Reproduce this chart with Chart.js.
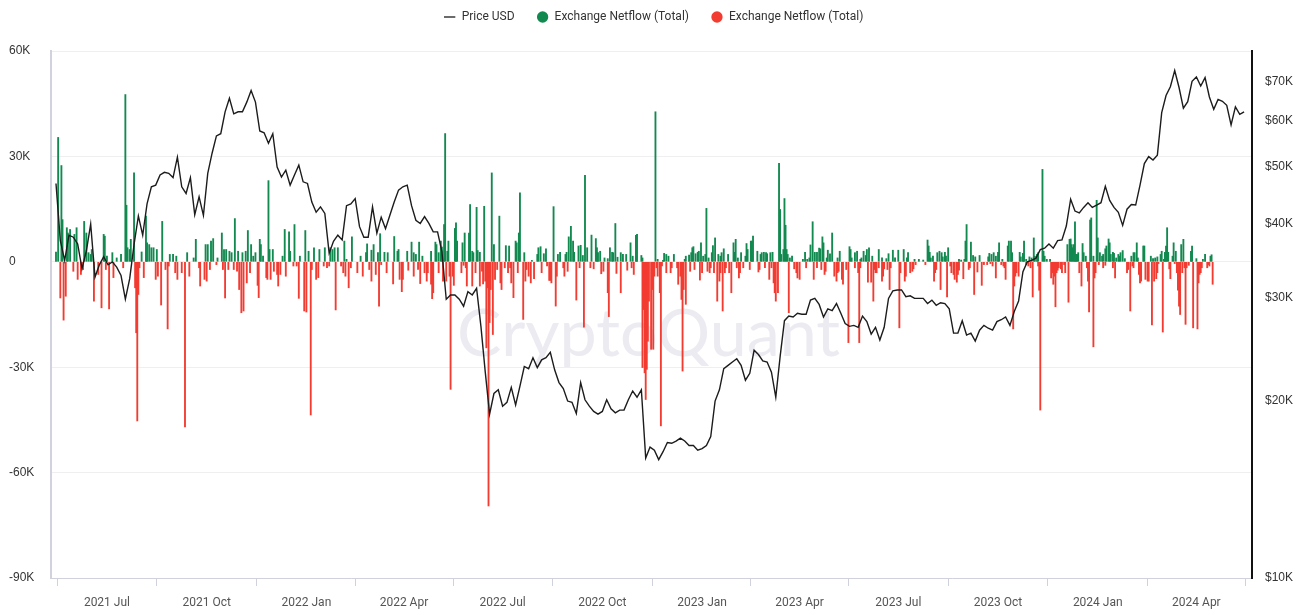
<!DOCTYPE html>
<html>
<head>
<meta charset="utf-8">
<script src="https://cdn.jsdelivr.net/npm/chart.js@4.4.1/dist/chart.umd.min.js"></script>
<style>
  html, body { margin: 0; background: #fff; }
  #wrap { width: 1304px; height: 615px; position: relative; }
</style>
</head>
<body>
<div id="wrap"><canvas id="chart"></canvas></div>
<script>
// day 0 of every series
const startDate = '2021-05-15';

// BTC price (thousand USD), one reading every 4 days from startDate
const priceStepDays = 4;
const priceUsdK = [
  46.9,37.5,34.7,38.3,38.0,37.0,33.6,36.0,40.0,32.5,
  34.1,35.2,34.1,34.5,33.8,32.7,29.8,32.3,36.9,41.3,
  38.3,43.3,46.3,46.6,48.5,49.0,48.8,48.0,52.0,46.3,
  45.1,48.0,41.5,44.5,41.4,48.8,52.8,56.5,57.0,62.1,
  65.5,61.6,62.1,62.1,64.5,67.5,64.5,57.6,57.2,54.9,
  57.0,50.0,48.1,49.4,46.6,48.5,50.4,47.2,46.9,43.6,
  41.9,42.8,41.7,35.7,37.4,38.3,37.6,43.0,43.3,44.2,
  39.6,38.0,38.0,42.8,38.6,41.1,39.3,41.4,43.6,45.7,
  46.3,46.6,43.0,40.6,40.1,41.2,40.1,38.8,38.8,35.9,
  29.8,30.3,30.3,29.8,29.0,30.7,30.3,31.1,26.8,22.4,
  19.0,20.6,20.9,19.6,19.9,21.1,19.7,21.2,22.9,22.7,
  23.7,22.8,23.5,23.7,24.2,22.6,21.5,21.0,20.0,19.9,
  19.05,21.5,20.1,19.6,19.2,19.0,19.2,20.1,19.4,19.1,
  19.3,19.3,20.1,20.8,20.3,20.9,16.0,16.7,16.5,15.9,
  16.4,17.0,16.95,17.1,17.3,17.1,16.8,16.8,16.5,16.6,
  16.8,17.4,20.0,20.9,22.7,23.0,23.3,23.6,23.0,21.7,
  22.3,24.4,24.0,23.4,23.3,22.4,20.3,23.8,27.4,27.9,
  27.8,28.2,28.1,28.1,29.7,29.9,29.2,27.8,28.7,28.5,
  29.3,28.2,27.1,26.8,26.9,26.7,27.9,27.3,26.0,26.7,
  25.4,26.7,29.9,30.8,30.9,30.9,30.1,30.2,29.9,29.9,
  29.9,29.3,29.7,29.1,29.4,29.3,28.7,26.1,26.1,27.4,
  25.9,26.1,25.3,26.4,26.9,26.6,26.4,27.3,27.5,27.8,
  26.9,28.4,29.6,33.2,34.5,34.7,35.0,36.2,36.4,37.0,
  36.4,37.5,37.6,39.7,44.1,42.1,41.8,42.7,43.5,42.7,
  43.1,43.5,46.4,43.9,42.7,41.9,39.8,42.4,43.2,43.1,
  46.6,50.7,52.1,51.4,52.4,61.9,66.2,68.5,73.0,68.3,
  63.0,64.6,70.0,71.2,68.7,71.0,65.8,62.7,65.2,64.7,
  63.7,59.0,63.3,61.5,62.1
];

// exchange netflow, [day, thousand BTC], positive days
const inflowK = [
  [0,2.8],[2,35.4],[5,27.4],[6,12.0],[10,9.7],[11,8.2],[13,9.2],[17,7.8],[19,9.7],[26,11.5],
  [28,8.2],[30,2.6],[32,2.1],[33,3.5],[44,7.8],[45,7.3],[47,1.6],[52,2.6],[56,1.1],[60,2.1],
  [64,47.6],[65,16.1],[66,4.0],[68,3.5],[69,6.4],[72,25.3],[79,2.8],[83,13.0],[84,5.4],[86,4.9],
  [88,4.0],[90,4.0],[93,3.5],[98,11.5],[105,2.1],[108,2.1],[111,1.6],[121,2.6],[127,1.1],[129,6.4],
  [138,4.9],[140,4.9],[143,5.9],[145,6.6],[149,1.1],[153,8.2],[155,3.5],[157,3.5],[160,3.0],[162,2.6],
  [165,12.3],[168,3.0],[172,2.6],[175,3.0],[177,8.9],[180,4.9],[182,1.6],[184,2.6],[188,6.4],[189,4.9],
  [191,1.6],[196,23.1],[197,3.5],[200,3.5],[209,1.6],[211,9.2],[215,8.5],[216,3.0],[220,10.6],[225,1.6],
  [230,8.9],[233,3.0],[238,4.0],[243,3.5],[248,4.0],[253,4.0],[255,3.5],[257,4.0],[260,4.0],[266,5.9],
  [268,0.7],
  [273,7.1],[281,1.6],[286,2.6],[287,5.1],[291,3.3],[293,4.9],[297,2.6],[299,8.0],[303,2.7],[306,2.6],
  [312,7.2],[315,3.0],[316,3.5],[324,3.0],[328,5.6],[330,2.6],[332,2.1],[335,5.6],[338,1.6],[346,3.0],
  [350,5.6],[351,4.9],[353,2.6],[355,5.9],[356,4.2],[358,10.6],[359,36.5],[361,3.0],[362,5.9],[368,9.5],
  [369,11.1],[370,5.9],[375,5.4],[377,8.2],[381,8.2],[382,16.3],[384,3.0],[385,2.6],[388,15.5],[389,3.2],
  [391,2.7],[395,15.8],[402,25.3],[404,4.9],[409,13.0],[415,4.6],[418,4.5],[424,5.9],[425,5.4],[427,8.2],
  [428,19.6],[432,2.6],[439,0.4],[444,2.1],[445,4.0],[447,4.3],[450,2.3],[452,3.7],[459,15.7],[463,2.1],
  [465,2.7],[470,2.1],[471,2.7],[473,7.1],[475,10.1],[477,5.9],[478,2.7],[482,4.5],[484,4.7],[486,1.8],
  [488,24.6],[490,4.0],[494,7.6],[498,6.6],[499,4.0],[500,2.6],[502,3.0],[506,1.1],[509,0.9],[511,4.0],
  [513,2.7],[514,2.6],[516,10.9],[518,1.3],[521,2.6],[523,2.1],[526,2.1],[530,5.4],[532,1.6],[535,7.5],
  [536,7.8],[540,1.8],[541,1.1],
  [553,42.7],[555,0.7],[560,0.4],[561,2.4],[563,2.1],[565,1.6],[570,2.1],[580,0.7],[581,1.6],[584,1.9],
  [586,2.6],[587,4.0],[588,4.3],[590,2.3],[592,2.7],[593,3.0],[595,5.4],[597,1.6],[599,2.1],[600,15.2],
  [602,1.1],[605,2.6],[606,4.6],[608,6.8],[611,2.1],[613,1.6],[614,2.6],[616,3.7],[620,2.1],[625,5.4],
  [626,2.7],[627,6.4],[629,1.1],[632,2.6],[636,1.6],[637,5.2],[638,3.5],[641,5.9],[642,5.9],[643,7.3],
  [647,3.0],[650,2.1],[651,2.6],[653,2.7],[655,2.6],[656,2.3],[659,2.6],[661,2.7],[667,28.0],[668,14.9],
  [669,2.1],[671,3.5],[672,18.0],[673,10.4],[674,3.5],[675,2.1],[677,1.1],[679,1.6],[689,0.7],[691,2.7],
  [693,0.7],[695,1.1],[696,4.8],[698,11.4],[700,2.7],[702,2.7],[704,3.9],[705,3.7],[707,7.1],[708,5.4],
  [711,1.1],[712,3.3],[714,2.3],[716,8.2],[721,1.1],[723,3.0],[732,4.3],[733,3.5],[734,1.1],[737,2.6],
  [739,3.0],[742,0.7],[743,1.1],[745,3.0],[747,1.8],[748,3.5],[750,4.0],[753,1.6],[759,3.5],[762,1.1],
  [766,0.9],[768,2.3],[772,3.3],[774,1.1],[777,3.3],[782,3.5],[785,1.1],[786,2.6],[792,0.7],[796,0.7],
  [800,0.5],[804,6.2],[805,4.5],[806,2.7],[807,1.1],[809,1.6],[813,2.6],[815,3.0],
  [817,2.6],[818,1.4],[820,2.7],[821,1.6],[823,4.0],[833,0.7],[835,0.5],[838,0.7],[839,5.9],[840,10.6],
  [844,5.6],[846,1.8],[848,1.4],[852,1.8],[860,1.4],[861,2.4],[863,2.1],[865,2.6],[867,1.6],[869,2.7],
  [870,5.4],[873,0.7],[878,4.5],[879,5.9],[881,5.9],[882,2.6],[889,2.7],[890,1.4],[892,2.4],[893,5.9],
  [895,0.7],[898,1.4],[900,1.1],[902,6.8],[903,1.6],[905,2.1],[906,2.6],[910,26.3],[911,3.0],[912,1.6],
  [914,0.7],[917,0.7],[933,4.9],[935,6.4],[936,6.5],[937,4.9],[938,4.0],[939,4.9],[940,11.4],[941,2.1],
  [942,2.1],[943,2.6],[947,5.2],[948,2.6],[950,1.6],[954,11.9],[955,12.5],[957,1.6],[960,17.5],[961,6.8],
  [963,2.6],[965,1.6],[966,2.1],[968,3.7],[969,4.5],[971,6.5],[972,5.4],[973,2.1],[975,2.7],[976,2.4],
  [978,1.1],[980,2.1],[981,1.6],[982,2.6],[984,3.2],[986,0.9],[992,1.6],[994,2.6],[995,2.6],[997,5.4],
  [998,1.1],[1003,4.5],[1004,4.5],[1010,1.6],[1012,0.9],[1014,1.1],[1016,1.4],[1019,2.1],[1020,3.0],[1022,0.7],
  [1023,2.7],[1024,4.5],[1025,9.7],[1026,2.7],[1030,1.6],[1031,5.4],[1033,3.0],[1038,4.9],[1040,6.4],[1047,3.0],
  [1048,4.5],[1052,0.9],[1058,0.7],[1060,2.1],[1065,1.6],[1066,2.0]
];

// exchange netflow, [day, thousand BTC], negative days
const outflowK = [
  [4,-10.3],[7,-16.6],[9,-9.8],[16,-2.7],[20,-5.0],[23,-3.6],[25,-2.2],[35,-11.2],[39,-3.6],[42,-13.1],
  [46,-2.2],[49,-13.4],[53,-4.5],[62,-1.7],[73,-7.4],[74,-20.2],[75,-45.3],[76,-9.3],[77,-1.7],[81,-4.5],
  [92,-5.0],[94,-4.1],[97,-12.3],[101,-2.2],[103,-19.1],[104,-1.2],[110,-3.1],[112,-5.0],[116,-3.1],[119,-47.0],
  [123,-4.1],[132,-1.7],[133,-6.9],[137,-5.0],[139,-5.5],[142,-2.2],[148,-0.8],[154,-2.2],[156,-10.3],[159,-2.2],
  [164,-2.2],[167,-2.7],[169,-7.9],[171,-14.5],[173,-14.0],[176,-6.0],[179,-3.1],[186,-6.7],[187,-10.2],[194,-4.5],
  [195,-5.0],[198,-5.0],[201,-2.7],[204,-3.6],[205,-6.9],[207,-3.6],[212,-4.1],[219,-1.2],[222,-1.2],[224,-10.4],
  [229,-14.0],[231,-14.3],[235,-43.6],[236,-2.2],[240,-5.0],[242,-4.5],[247,-1.2],[250,-1.7],[252,-1.2],[258,-13.7],
  [263,-1.2],[265,-3.1],[267,-4.1],[270,-7.4],
  [272,-1.7],[278,-3.1],[283,-4.1],[289,-2.2],[291,-5.5],[295,-3.6],[298,-12.6],[300,-0.8],[305,-3.1],[311,-6.3],
  [317,-5.0],[319,-8.5],[320,-5.0],[325,-2.4],[330,-4.1],[334,-2.2],[336,-6.2],[340,-3.1],[342,-5.5],[343,-3.1],
  [346,-6.4],[347,-10.5],[348,-8.8],[353,-3.1],[357,-5.5],[360,-5.5],[363,-4.1],[364,-36.3],[366,-4.1],[367,-6.7],
  [374,-3.1],[376,-1.0],[378,-1.7],[379,-6.9],[384,-6.9],[387,-3.1],[391,-6.9],[393,-2.7],[394,-6.3],[396,-5.5],
  [397,-24.5],[398,-7.4],[399,-69.5],[400,-17.3],[401,-7.9],[403,-20.7],[405,-5.0],[407,-2.2],[410,-6.0],[411,-7.9],
  [414,-1.7],[417,-3.1],[419,-1.7],[420,-6.0],[422,-10.2],[426,-3.1],[431,-16.4],[433,-5.5],[434,-2.2],[436,-4.1],
  [438,-6.0],[441,-4.8],[448,-3.1],[453,-1.2],[455,-5.3],[456,-5.3],[457,-6.0],[461,-12.6],[462,-4.1],[468,-1.7],
  [469,-4.1],[472,-2.7],[480,-10.9],[483,-1.7],[487,-18.6],[493,-1.7],[496,-2.0],[503,-3.4],[505,-2.7],[509,-8.8],
  [510,-15.6],[517,-3.3],[521,-8.8],[527,-2.4],[531,-1.7],[533,-3.6],
  [541,-30.1],[542,-13.6],[543,-31.6],[544,-39.2],[545,-30.6],[546,-22.6],[547,-11.2],[549,-24.9],[550,-7.9],[551,-24.9],
  [552,-4.1],[554,-1.7],[555,-4.1],[557,-8.8],[558,-46.7],[559,-1.2],[563,-3.1],[567,-3.1],[568,-1.7],[573,-1.7],
  [574,-6.4],[576,-4.1],[577,-10.7],[578,-31.1],[579,-7.9],[581,-12.1],[585,-2.7],[589,-2.2],[594,-5.2],[596,-3.1],
  [601,-2.7],[603,-3.1],[604,-1.7],[607,-3.1],[610,-11.2],[612,-5.5],[613,-3.1],[615,-14.0],[617,-3.1],[618,-1.7],
  [621,-3.1],[623,-8.8],[628,-1.7],[630,-4.6],[631,-3.1],[634,-1.7],[640,-2.2],[648,-2.9],[649,-2.2],[654,-1.7],
  [658,-5.0],[660,-1.7],[662,-6.0],[663,-8.8],[664,-11.2],[666,-8.8],[676,-14.5],[681,-2.0],[683,-3.1],[684,-4.6],
  [686,-5.0],[692,-1.7],[699,-5.0],[702,-1.7],[706,-2.2],[709,-3.6],[710,-2.7],[718,-4.1],[720,-5.5],[721,-3.1],
  [722,-2.7],[725,-5.0],[726,-6.4],[729,-2.2],[731,-23.0],[737,-1.7],[740,-3.1],[741,-23.0],[742,-1.7],[749,-5.8],
  [752,-5.8],[754,-11.2],[755,-2.2],[756,-3.1],[757,-3.1],[759,-1.7],[762,-5.5],[763,-4.1],[764,-2.0],[767,-2.2],
  [769,-7.9],[770,-1.7],[778,-18.8],[779,-3.1],[783,-5.5],[784,-4.1],[788,-3.1],[790,-2.7],[791,-2.0],[793,-0.8],
  [802,-0.8],[810,-5.5],[811,-3.1],[812,-2.2],
  [816,-7.9],[822,-10.0],[825,-1.2],[826,-3.1],[828,-3.6],[829,-5.0],[831,-5.8],[832,-3.6],[833,-2.4],[837,-4.8],
  [842,-2.2],[843,-1.7],[847,-9.3],[850,-2.9],[854,-6.7],[856,-0.8],[859,-0.8],[862,-0.5],[864,-1.2],[867,-4.6],
  [872,-0.8],[874,-1.2],[875,-1.7],[876,-5.0],[883,-19.1],[884,-6.9],[885,-4.1],[886,-3.1],[888,-4.1],[895,-0.8],
  [897,-1.2],[899,-1.7],[901,-10.0],[906,-1.2],[907,-8.1],[908,-42.2],[918,-4.6],[919,-3.1],[920,-6.4],[921,-4.1],
  [922,-12.8],[923,-3.1],[924,-2.4],[925,-1.7],[927,-2.0],[928,-3.1],[930,-0.8],[931,-3.1],[934,-11.5],[944,-3.1],
  [946,-6.9],[951,-1.7],[952,-5.5],[953,-14.3],[957,-24.2],[958,-4.6],[959,-3.1],[962,-0.8],[966,-1.7],[968,-1.0],
  [975,-1.7],[977,-4.6],[988,-3.1],[989,-2.2],[991,-14.0],[993,-1.2],[994,-1.7],[999,-3.6],[1000,-6.0],[1001,-5.5],
  [1005,-5.0],[1007,-5.5],[1008,-5.5],[1011,-18.0],[1013,-5.5],[1015,-4.8],[1016,-3.1],[1017,-0.5],[1021,-20.0],[1027,-2.0],
  [1028,-4.8],[1032,-0.5],[1034,-3.1],[1035,-8.1],[1036,-12.6],[1037,-15.0],[1039,-3.1],[1041,-1.7],[1042,-17.8],[1043,-1.7],
  [1045,-1.0],[1049,-18.8],[1053,-19.1],[1054,-6.0],[1055,-3.6],[1056,-3.1],[1057,-1.7],[1062,-1.7],[1063,-0.8],[1064,-1.2],
  [1067,-6.4]
];

const quarterDates = ['2021-07-01','2021-10-01','2022-01-01','2022-04-01','2022-07-01','2022-10-01',
                      '2023-01-01','2023-04-01','2023-07-01','2023-10-01','2024-01-01','2024-04-01'];
const quarterLabels = ['2021 Jul','2021 Oct','2022 Jan','2022 Apr','2022 Jul','2022 Oct',
                       '2023 Jan','2023 Apr','2023 Jul','2023 Oct','2024 Jan','2024 Apr'];
const netflowTicks = [-90, -60, -30, 0, 30, 60];
const priceTicks = [10, 20, 30, 40, 50, 60, 70];

const DAY_MS = 86400000;
const dayOf = d => (Date.parse(d) - Date.parse(startDate)) / DAY_MS;
const quarterDays = quarterDates.map(dayOf);

const pricePoints = priceUsdK.map((v, i) => ({ x: i * priceStepDays, y: v }));
const inflowPoints = inflowK.map(([d, v]) => ({ x: d, y: v }));
const outflowPoints = outflowK.map(([d, v]) => ({ x: d, y: v }));

Chart.defaults.font.family = 'Roboto, "Liberation Sans", sans-serif';
Chart.defaults.font.size = 12;

// faint brand mark behind the bars
const watermark = {
  id: 'watermark',
  beforeDatasetsDraw(chart) {
    const { ctx, chartArea: a } = chart;
    ctx.save();
    ctx.font = '72px Lato';
    const size = 72 * 383 / ctx.measureText('CryptoQuant').width;
    ctx.font = size + 'px Lato';
    ctx.fillStyle = '#ebebf1';
    ctx.textAlign = 'center';
    ctx.textBaseline = 'alphabetic';
    ctx.fillText('CryptoQuant', (a.left + a.right) / 2 - 3, a.top + 305);
    ctx.restore();
  }
};

// extra room between legend and plot, row nudged a little left
const legendGap = {
  id: 'legendGap',
  beforeLayout(chart) {
    const lg = chart.legend;
    if (lg && !lg._gap) {
      const fit = lg.fit;
      lg.fit = function () {
        fit.call(this);
        this.height += 18;
        if (this.lineWidths) this.lineWidths = this.lineWidths.map(w => w + 6);
      };
      lg._gap = true;
    }
  }
};

const axisFont = { family: '"Liberation Sans", Arial, sans-serif', size: 12 };

new Chart(document.getElementById('chart'), {
  type: 'bar',
  data: {
    datasets: [
      {
        type: 'line',
        label: 'Price USD',
        data: pricePoints,
        yAxisID: 'yPrice',
        borderColor: '#1c1c1c',
        borderWidth: 1.4,
        pointRadius: 0,
        pointStyle: 'line',
        tension: 0,
        order: 0
      },
      {
        label: 'Exchange Netflow (Total)',
        data: inflowPoints,
        yAxisID: 'y',
        backgroundColor: '#11894f',
        barThickness: 1.2,
        grouped: false,
        order: 1
      },
      {
        label: 'Exchange Netflow (Total)',
        data: outflowPoints,
        yAxisID: 'y',
        backgroundColor: '#f23b31',
        barThickness: 1.2,
        grouped: false,
        order: 2
      }
    ]
  },
  options: {
    responsive: true,
    maintainAspectRatio: false,
    animation: false,
    events: [],
    layout: { padding: { top: -11, left: 9, right: 0, bottom: 0 } },
    plugins: {
      tooltip: { enabled: false },
      legend: {
        position: 'top',
        labels: {
          usePointStyle: true,
          boxWidth: 12,
          boxHeight: 8,
          padding: 22,
          color: '#333',
          font: { family: 'Roboto', size: 12 },
          generateLabels(chart) {
            const items = Chart.defaults.plugins.legend.labels.generateLabels(chart);
            items.forEach(it => {
              if (it.datasetIndex === 0) { it.strokeStyle = '#6b6b6b'; it.lineWidth = 2; }
            });
            return items;
          }
        }
      }
    },
    scales: {
      x: {
        type: 'linear',
        min: -4.6,
        max: 1103.3,
        offset: false,
        afterBuildTicks: s => { s.ticks = quarterDays.map(v => ({ value: v })); },
        afterFit: s => { s.height = 37; },
        ticks: {
          autoSkip: false,
          maxRotation: 0,
          padding: 10,
          color: '#555',
          font: { family: 'Roboto', size: 12 },
          callback: (v, i) => quarterLabels[i]
        },
        grid: { drawOnChartArea: false, tickLength: 8, color: '#cfd1dd' },
        border: { color: '#cfd1dd', width: 1 }
      },
      y: {
        position: 'left',
        min: -90,
        max: 60,
        afterBuildTicks: s => { s.ticks = netflowTicks.map(v => ({ value: v })); },
        afterFit: s => { s.width = 42; },
        ticks: {
          crossAlign: 'far',
          color: '#333',
          font: axisFont,
          callback: v => (v === 0 ? '0' : v + 'K')
        },
        grid: { color: '#efeff1', drawTicks: false },
        border: { color: '#d0d2de', width: 2 }
      },
      yPrice: {
        type: 'logarithmic',
        position: 'right',
        min: 10,
        max: 78.8,
        afterBuildTicks: s => { s.ticks = priceTicks.map(v => ({ value: v })); },
        afterFit: s => { s.width = 52; },
        ticks: {
          padding: 13,
          color: '#333',
          font: axisFont,
          callback: v => '$' + v + 'K'
        },
        grid: { drawOnChartArea: false, drawTicks: false },
        border: { color: '#111', width: 2 }
      }
    }
  },
  plugins: [watermark, legendGap]
});
</script>
</body>
</html>
